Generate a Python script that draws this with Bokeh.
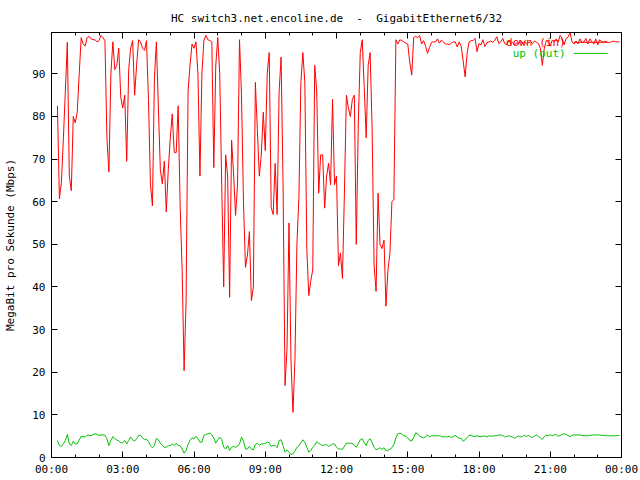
import pandas as pd
from bokeh.plotting import figure
from bokeh.models import Range1d, FixedTicker, LinearAxis, Label
from bokeh.embed import file_html
from bokeh.resources import INLINE

# ---------------- data ----------------
title_text = "HC switch3.net.encoline.de \u00a0-\u00a0 GigabitEthernet6/32"
y_label = "MegaBit pro Sekunde (Mbps)"
series_names = ["down (in)", "up (out)"]
first_sample = "00:15:00"
sample_step = "5min"

x_tick_hours = [0, 3, 6, 9, 12, 15, 18, 21, 24]
x_tick_labels = ["00:00", "03:00", "06:00", "09:00", "12:00", "15:00", "18:00", "21:00", "00:00"]
x_minor_hours = list(range(0, 25))
y_ticks = [0, 10, 20, 30, 40, 50, 60, 70, 80, 90]
y_max = 99.7

down_in = [
    82.5, 60.7, 64.5, 74.8, 86, 97.4, 66, 62.6, 80, 78.5,
    81, 90, 98.5, 97, 96.5, 98.5, 98.8, 98.2, 98, 98,
    97.5, 97.8, 99, 98.5, 97.8, 75, 67, 90, 97.5, 91,
    92, 96, 84.5, 82, 85, 69.5, 91, 96, 97.8, 85,
    92, 98, 97.5, 96, 95.5, 97.8, 84, 64, 59, 89,
    97.5, 82, 67.5, 64.2, 69.5, 57.6, 67.5, 74.8, 80.6, 71.6,
    71.5, 82.5, 59, 44, 20.4, 36.8, 86, 92, 97, 96,
    97.5, 90, 66, 90, 97.8, 99, 98, 97.8, 97.5, 68,
    92, 98.5, 90, 64, 40, 71, 66, 37.6, 74.4, 66.5,
    56.8, 64, 98, 85, 60, 44.6, 47.5, 53, 36.8, 40,
    88, 77, 66, 71, 81, 72, 90, 95, 58.7, 57,
    69, 57, 85.7, 93.9, 64, 16.9, 25.5, 55, 22.8, 10.6,
    23, 50, 61, 88, 95, 88, 49, 38, 41.5, 44,
    92, 86, 62, 71, 71, 58.5, 66, 69, 64, 84,
    64, 66, 45, 48, 42, 62, 85, 82, 80, 84,
    85, 50, 78, 95, 98, 87, 75, 92, 95, 77,
    45, 39, 62, 50, 49, 51, 35.5, 44, 48, 60,
    60.5, 98, 97, 98, 97.8, 97.5, 97.2, 97, 92.8, 89.7,
    98.5, 98.8, 98.5, 99, 97, 97.8, 96.5, 94.8, 96.2, 97.4,
    97.5, 97.5, 98.2, 97.2, 97.9, 97.5, 97, 97, 96.8, 97.2,
    97.5, 97.5, 96.3, 97.5, 96.5, 93, 89.3, 94.8, 97.5, 97.8,
    97.8, 98.3, 95.2, 97.1, 96.8, 98, 96.4, 97.3, 97.5, 97.7,
    97.4, 97.9, 98.7, 97.1, 97.5, 98.3, 97.1, 96.8, 97.8, 97.1,
    97.4, 96.7, 97.3, 97, 97.9, 97.1, 97.5, 97.1, 97.3, 97.5,
    97.1, 97.7, 97.4, 97.1, 96, 92, 96, 97.8, 97.5, 96.5,
    97.9, 97.5, 98.2, 97.5, 99, 98.3, 96.8, 98.3, 98.6, 99.7,
    97.5, 97, 97.7, 97, 98.2, 97.3, 97.5, 98.3, 97, 98.2,
    97.5, 97, 98.2, 96.8, 98, 97.5, 97.5, 97.6, 97.4, 97.4,
    97.5, 97.7, 97.5, 97.5, 97.5,
]

up_out = [
    4.0, 2.8, 2.6, 3.2, 4.0, 5.4, 3.2, 2.8, 3.8, 3.2,
    3.2, 4.1, 5.0, 4.9, 4.8, 5.2, 5.25, 5.1, 5.4, 5.55,
    5.4, 5.2, 5.3, 5.3, 5.25, 4.4, 2.8, 4.0, 4.9, 4.4,
    4.1, 3.9, 3.45, 3.45, 4.0, 3.2, 4.0, 4.8, 4.15, 3.85,
    4.4, 5.2, 5.2, 4.6, 4.2, 4.3, 3.7, 2.8, 2.3, 2.8,
    4.5, 4.15, 3.35, 2.8, 2.4, 2.4, 2.75, 2.8, 3.2, 2.8,
    3.35, 2.8, 2.8, 2.0, 1.0, 1.65, 3.05, 4.0, 4.6, 4.4,
    5.0, 4.4, 3.6, 3.6, 5.2, 5.4, 5.55, 5.7, 5.3, 4.6,
    3.35, 4.15, 4.8, 4.2, 2.4, 2.0, 2.8, 1.65, 2.4, 2.6,
    2.4, 2.6, 3.2, 4.8, 3.8, 2.0, 2.0, 2.6, 2.0, 1.8,
    3.05, 3.35, 2.8, 3.2, 3.2, 3.3, 3.6, 3.5, 2.6, 2.8,
    2.8, 2.3, 4.0, 4.15, 2.8, 1.25, 1.8, 1.25, 0.7, 0.85,
    1.5, 2.4, 2.8, 3.5, 4.15, 3.6, 2.4, 1.25, 1.65, 2.4,
    2.8, 3.7, 3.35, 3.05, 2.8, 2.95, 3.05, 2.65, 2.8, 3.2,
    3.2, 2.4, 2.0, 2.0, 1.9, 2.6, 3.35, 3.35, 3.35, 3.35,
    2.8, 2.4, 3.2, 4.15, 4.4, 3.5, 2.8, 4.0, 4.4, 3.5,
    2.4, 1.8, 2.0, 2.3, 1.9, 2.3, 1.65, 1.65, 1.95, 2.3,
    3.05, 4.6, 5.55, 5.7, 5.5, 5.1, 5.0, 4.6, 4.0, 3.9,
    4.7, 5.8, 5.6, 5.0, 4.8, 4.6, 4.9, 5.3, 4.8, 5.1,
    5.1, 5.1, 5.1, 5.1, 4.95, 4.8, 4.9, 4.8, 5.0, 4.7,
    4.95, 5.15, 4.8, 4.5, 4.5, 3.85, 4.15, 4.7, 5.2, 5.25,
    4.95, 4.95, 5.1, 4.9, 4.9, 5.0, 5.05, 4.8, 5.1, 5.0,
    5.05, 5.1, 5.1, 5.25, 5.3, 5.15, 4.8, 4.95, 5.1, 4.95,
    4.8, 4.5, 4.8, 5.1, 4.8, 4.95, 5.2, 4.95, 5.15, 4.9,
    4.7, 5.0, 5.3, 4.95, 4.6, 4.25, 4.9, 5.25, 5.1, 5.35,
    5.1, 5.3, 5.4, 4.95, 5.2, 5.4, 5.55, 5.45, 5.1, 4.9,
    5.2, 5.3, 5.3, 5.3, 5.3, 5.15, 5.1, 5.1, 5.1, 5.15,
    5.25, 5.3, 5.3, 5.3, 5.3, 5.2, 5.15, 5.1, 5.1, 5.1,
    5.1, 5.1, 5.1, 5.15, 5.2,
]

# ---------------- styling ----------------
FONT = "DejaVu Sans Mono"
FS = "11px"
RED = "#ff0000"
GREEN = "#00c000"

sample_times = pd.timedelta_range(start=first_sample, periods=len(down_in), freq=sample_step)
hours = list(sample_times / pd.Timedelta(hours=1))

p = figure(width=640, height=480, output_backend="svg", toolbar_location=None,
           x_range=Range1d(0, 24), y_range=Range1d(0, y_max),
           min_border_left=51, min_border_right=19, min_border_top=32, min_border_bottom=23,
           title=title_text)
p.background_fill_color = "white"
p.border_fill_color = "white"
p.outline_line_color = "black"
p.outline_line_width = 1
p.xgrid.visible = False
p.ygrid.visible = False

p.title.text_font = FONT
p.title.text_font_size = FS
p.title.text_font_style = "normal"
p.title.align = "center"
p.title.text_color = "black"
p.title.standoff = 16

def style_axis(ax):
    ax.axis_line_color = "black"
    ax.major_tick_line_color = "black"
    ax.minor_tick_line_color = "black"
    ax.major_tick_in = 6
    ax.major_tick_out = 0
    ax.minor_tick_in = 3
    ax.minor_tick_out = 0
    ax.major_label_text_font = FONT
    ax.major_label_text_font_size = FS
    ax.major_label_text_color = "black"

xt = FixedTicker(ticks=x_tick_hours, minor_ticks=x_minor_hours)
yt = FixedTicker(ticks=y_ticks, minor_ticks=[])

p.xaxis.ticker = xt
p.xaxis.major_label_overrides = {h: lab for h, lab in zip(x_tick_hours, x_tick_labels)}
p.xaxis.major_label_standoff = 5
style_axis(p.xaxis[0])

p.yaxis.ticker = yt
p.yaxis.major_label_standoff = 6
p.yaxis.axis_label = y_label
p.yaxis.axis_label_text_font = FONT
p.yaxis.axis_label_text_font_size = FS
p.yaxis.axis_label_text_font_style = "normal"
p.yaxis.axis_label_text_color = "black"
p.yaxis.axis_label_standoff = 12
style_axis(p.yaxis[0])

top = LinearAxis(ticker=FixedTicker(ticks=x_tick_hours, minor_ticks=x_minor_hours),
                 major_label_overrides={h: "" for h in x_tick_hours}, major_label_standoff=0)
style_axis(top)
p.add_layout(top, "above")
right = LinearAxis(ticker=FixedTicker(ticks=y_ticks, minor_ticks=[]),
                   major_label_overrides={v: "" for v in y_ticks}, major_label_standoff=0)
style_axis(right)
p.add_layout(right, "right")

# data lines
p.line(hours, down_in, line_color=RED, line_width=1)
p.line(hours, up_out, line_color=GREEN, line_width=1)

# gnuplot-style key: right-aligned text followed by sample line
key_text_x = 21.65
key_line = (21.99, 23.42)
key_rows = [(97.4, RED), (94.8, GREEN)]
for name, (ky, col) in zip(series_names, key_rows):
    p.add_layout(Label(x=key_text_x, y=ky, text=name, text_align="right", text_baseline="middle",
                       text_font=FONT, text_font_size=FS, text_color=col))
    p.segment(x0=[key_line[0]], y0=[ky], x1=[key_line[1]], y1=[ky], line_color=col, line_width=1)

open("out.html", "w").write(file_html(p, INLINE))
